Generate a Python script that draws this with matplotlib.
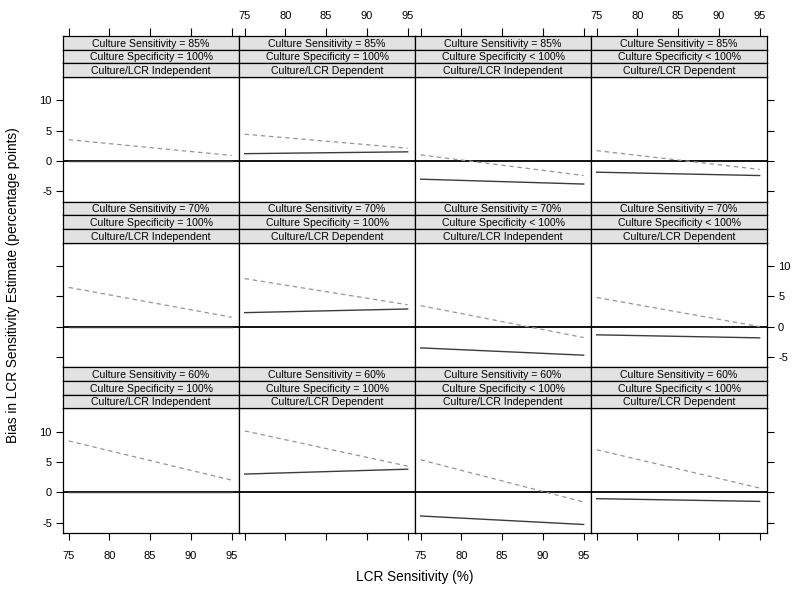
import matplotlib
matplotlib.use("Agg")
import matplotlib.pyplot as plt

plt.rcParams['font.family'] = ['Liberation Sans', 'DejaVu Sans']
plt.rcParams['axes.unicode_minus'] = False

# ---- data ----
lcr_sens = [75, 95]
culture_sens = ["85%", "70%", "60%"]
culture_spec = ["= 100%", "= 100%", "< 100%", "< 100%"]
dependence = ["Independent", "Dependent", "Independent", "Dependent"]

# dashed series, [row][col] -> values at lcr_sens
dashed = [
    [[3.5, 0.9], [4.4, 2.1], [1.0, -2.4], [1.7, -1.4]],
    [[6.45, 1.55], [7.9, 3.6], [3.45, -1.8], [4.8, 0.0]],
    [[8.45, 2.0], [10.1, 4.3], [5.35, -1.6], [7.0, 0.7]],
]
# solid series
solid = [
    [[0.0, 0.0], [1.2, 1.5], [-3.0, -3.8], [-1.85, -2.4]],
    [[0.0, 0.0], [2.3, 2.9], [-3.5, -4.7], [-1.35, -1.85]],
    [[0.0, 0.0], [3.0, 3.8], [-3.9, -5.3], [-1.05, -1.5]],
]
xticks = [75, 80, 85, 90, 95]
yticks = [-5, 0, 5, 10]

# ---- layout (pixels) ----
W, H = 800, 602
fig = plt.figure(figsize=(W / 100, H / 100), dpi=100)
left_px, right_px = 63, 767
top_px, bottom_px = 36, 533
ncol, nrow = 4, 3
col_w = (right_px - left_px) / ncol
row_h = (bottom_px - top_px) / nrow
strip_h = 13.7
nstrip = 3
xlim = (74.3, 95.9)
ylim = (-6.7, 13.8)
strip_col = "#e2e2e2"
tick_fs = 8
strip_fs = 7.6

def fx(px):
    return px / W

def fy(py):
    return 1 - py / H

for r in range(nrow):
    for c in range(ncol):
        x0 = left_px + c * col_w
        y0 = top_px + r * row_h
        # panel
        p_top = y0 + nstrip * strip_h
        p_bot = y0 + row_h
        ax = fig.add_axes([fx(x0), fy(p_bot), fx(col_w), (p_bot - p_top) / H])
        ax.set_xlim(*xlim)
        ax.set_ylim(*ylim)
        ax.axhline(0, color="black", lw=1.3, zorder=1)
        ax.plot(lcr_sens, solid[r][c], color="#3c3c3c", lw=1.0, zorder=3)
        ax.plot(lcr_sens, dashed[r][c], color="#959595", lw=0.9,
                linestyle=(0, (3.5, 3)), zorder=2)
        for s in ax.spines.values():
            s.set_linewidth(0.9)
        ax.tick_params(direction="out", length=5, width=0.8,
                       labelsize=tick_fs, pad=3)
        # x ticks
        ax.set_xticks(xticks)
        if r == nrow - 1:
            ax.tick_params(axis="x", bottom=True, top=False,
                           labelbottom=(c % 2 == 0), labeltop=False, pad=8)
        else:
            ax.tick_params(axis="x", bottom=False, top=False,
                           labelbottom=False, labeltop=False)
        # y ticks
        ax.set_yticks(yticks)
        ax.tick_params(axis="y",
                       left=(c == 0),
                       right=(c == ncol - 1),
                       labelleft=(c == 0 and r != 1),
                       labelright=(c == ncol - 1 and r == 1))
        # strips
        texts = [
            "Culture Sensitivity = " + culture_sens[r],
            "Culture Specificity " + culture_spec[c],
            "Culture/LCR " + dependence[c],
        ]
        for k in range(nstrip):
            s_top = y0 + k * strip_h
            sax = fig.add_axes([fx(x0), fy(s_top + strip_h), fx(col_w), strip_h / H])
            sax.set_facecolor(strip_col)
            sax.set_xlim(*xlim)
            sax.set_ylim(0, 1)
            for s in sax.spines.values():
                s.set_linewidth(0.9)
            sax.set_yticks([])
            if r == 0 and k == 0:
                sax.set_xticks(xticks)
                sax.tick_params(axis="x", direction="out", length=6, width=0.8,
                                bottom=False, top=True, labelbottom=False,
                                labeltop=(c % 2 == 1), labelsize=tick_fs, pad=5)
            else:
                sax.set_xticks([])
            sax.text(0.5, 0.45, texts[k], transform=sax.transAxes,
                     ha="center", va="center", fontsize=strip_fs)

fig.text(fx(415), fy(577), "LCR Sensitivity (%)", ha="center", va="center",
         fontsize=9.8)
fig.text(fx(13), fy(285), "Bias in LCR Sensitivity Estimate (percentage points)",
         ha="center", va="center", rotation=90, fontsize=9.8)

fig.savefig("out.png", dpi=100)
